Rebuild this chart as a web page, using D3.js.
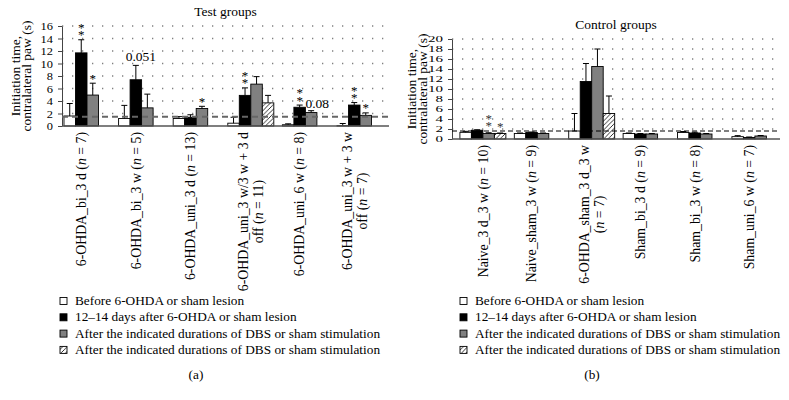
<!DOCTYPE html>
<html><head><meta charset="utf-8">
<script src="https://cdn.jsdelivr.net/npm/d3@7"></script>
<style>
body{margin:0;background:#fff;}
svg{display:block;font-family:"Liberation Serif","DejaVu Serif",serif;}
</style></head>
<body><svg id="chart" width="789" height="400"></svg>
<script>
// ---------- DATA ----------
const labelsA = [["6-OHDA_bi_3 d (n = 7)"],["6-OHDA_bi_3 w (n = 5)"],["6-OHDA_uni_3 d (n = 13)"],
  ["6-OHDA_uni_3 w/3 w + 3 d","off (n = 11)"],["6-OHDA_uni_6 w (n = 8)"],["6-OHDA_uni_3 w + 3 w","off (n = 7)"]];
const labelsB = [["Naive_3 d_3 w (n = 10)"],["Naive_sham_3 w (n = 9)"],["6-OHDA_sham_3 d_3 w","(n = 7)"],
  ["Sham_bi_3 d (n = 9)"],["Sham_bi_3 w (n = 8)"],["Sham_uni_6 w (n = 7)"]];
const seriesNames = ["Before 6-OHDA or sham lesion","12–14 days after 6-OHDA or sham lesion",
  "After the indicated durations of DBS or sham stimulation","After the indicated durations of DBS or sham stimulation"];

// panel (a) means and error (upper) values
const beforeA    = [1.6, 1.2, 1.2, 0.45, 0.2, 0.05];
const beforeErrA = [2.0, 2.1, 0.3, 0.95, 0.15, 0.35];
const lesionA    = [11.7, 7.4, 1.4, 4.9, 3.0, 3.35];
const lesionErrA = [2.1, 2.3, 0.4, 1.2, 0.35, 0.4];
const dbsA       = [4.95, 2.9, 2.8, 6.7, 2.15, 1.7];
const dbsErrA    = [1.9, 2.2, 0.35, 1.2, 0.3, 0.4];
const offA       = [null, null, null, 3.7, null, null];
const offErrA    = [null, null, null, 1.2, null, null];

// panel (b)
const beforeB    = [1.33, 1.1, 1.6, 1.1, 1.3, 0.47];
const beforeErrB = [0.2, 0.1, 3.5, 0.1, 0.2, 0.2];
const lesionB    = [1.75, 1.3, 11.5, 1.0, 1.2, 0.3];
const lesionErrB = [0.1, 0.1, 3.6, 0.1, 0.15, 0.1];
const dbsB       = [1.1, 1.1, 14.5, 1.0, 1.0, 0.6];
const dbsErrB    = [0.15, 0.1, 3.5, 0.1, 0.1, 0.1];
const offB       = [1.1, null, 5.1, null, null, null];
const offErrB    = [0.1, null, 3.5, null, null, null];

const ticksA = [0,2,4,6,8,10,12,14,16];
const ticksB = [0,2,4,6,8,10,12,14,16,18,20];
const thresholdA = 1.5, thresholdB = 1.6;

// annotations: category index, series index, text
const annotA = [{c:0,s:1,t:"**"},{c:0,s:2,t:"*"},{c:1,s:1,t:"0.051"},{c:2,s:2,t:"*"},
  {c:3,s:1,t:"**"},{c:4,s:1,t:"**"},{c:4,s:2,t:"0.08"},{c:5,s:1,t:"**"},{c:5,s:2,t:"*"}];
const annotB = [{c:0,s:2,t:"**"},{c:0,s:3,t:"*"}];

// ---------- DRAW ----------
const svg = d3.select("#chart");
const defs = svg.append("defs");
const pat = defs.append("pattern").attr("id","hatch").attr("patternUnits","userSpaceOnUse")
  .attr("width",4.5).attr("height",4.5);
pat.append("rect").attr("width",4.5).attr("height",4.5).attr("fill","#fff");
pat.append("path").attr("d","M-1,1 L1,-1 M0,4.5 L4.5,0 M3.5,5.5 L5.5,3.5").attr("stroke","#000").attr("stroke-width",0.8);

const fills = ["#ffffff","#000000","#808080","url(#hatch)"];

function labelText(sel, str){
  const m = str.match(/^(.*\()n( = .*)$/);
  if(m){ sel.append("tspan").text(m[1]); sel.append("tspan").attr("font-style","italic").text("n"); sel.append("tspan").text(m[2]); }
  else sel.text(str);
}

function panel(cfg){
  const g = svg.append("g");
  const y = d3.scaleLinear().domain([0, cfg.ymax]).range([cfg.bottom, cfg.top]);
  const x0 = d3.scaleBand().domain(d3.range(cfg.labels.length)).range(cfg.bandRange)
    .paddingInner(cfg.pad).paddingOuter(cfg.pad/2);
  const x1 = d3.scaleBand().domain([0,1,2,3]).range([0, x0.bandwidth()]);
  const means = cfg.means, errs = cfg.errs;

  // grid
  g.append("g").selectAll("line").data(cfg.ticks.filter(t=>t>0)).join("line")
    .attr("x1",cfg.left).attr("x2",cfg.right).attr("y1",d=>y(d)).attr("y2",d=>y(d))
    .attr("stroke","#808080").attr("stroke-width",1.3).attr("stroke-dasharray","1.3,8.7");

  // y axis
  const ax = g.append("g").attr("transform",`translate(${cfg.left},0)`)
    .call(d3.axisLeft(y).tickValues(cfg.ticks).tickSize(4).tickSizeOuter(0).tickPadding(5));
  ax.select(".domain").attr("stroke","#444");
  ax.selectAll(".tick line").attr("stroke","#444");
  ax.selectAll("text").attr("font-family","Liberation Serif").attr("font-size",cfg.tickFont).attr("fill","#000")
    .attr("textLength",d=>String(d).length*cfg.digitW).attr("lengthAdjust","spacingAndGlyphs");

  // bars
  const bars = [];
  cfg.labels.forEach((l,c)=>{ for(let s=0;s<4;s++){ if(means[s][c]!=null) bars.push({c,s,v:means[s][c],e:errs[s][c]}); } });
  g.append("g").selectAll("rect").data(bars).join("rect")
    .attr("x",d=>x0(d.c)+x1(d.s)).attr("width",x1.bandwidth())
    .attr("y",d=>y(d.v)).attr("height",d=>y(0)-y(d.v))
    .attr("fill",d=>fills[d.s]).attr("stroke","#000").attr("stroke-width",0.9);
  // error bars
  const eb = g.append("g").attr("stroke","#000").attr("stroke-width",1);
  eb.selectAll("line.v").data(bars).join("line").attr("class","v")
    .attr("x1",d=>x0(d.c)+x1(d.s)+x1.bandwidth()/2).attr("x2",d=>x0(d.c)+x1(d.s)+x1.bandwidth()/2)
    .attr("y1",d=>y(d.v)).attr("y2",d=>y(d.v+d.e));
  eb.selectAll("line.c").data(bars).join("line").attr("class","c")
    .attr("x1",d=>x0(d.c)+x1(d.s)+x1.bandwidth()/2-3).attr("x2",d=>x0(d.c)+x1(d.s)+x1.bandwidth()/2+3)
    .attr("y1",d=>y(d.v+d.e)).attr("y2",d=>y(d.v+d.e));

  // threshold dashed line
  g.append("line").attr("x1",cfg.left).attr("x2",cfg.right).attr("y1",y(cfg.threshold)).attr("y2",y(cfg.threshold))
    .attr("stroke",cfg.dashColor).attr("stroke-width",cfg.dashWidth).attr("stroke-dasharray",cfg.dashArray);

  // x axis line
  g.append("line").attr("x1",cfg.left).attr("x2",cfg.right).attr("y1",y(0)).attr("y2",y(0))
    .attr("stroke","#555").attr("stroke-width",1.4);

  // annotations
  cfg.annots.forEach(a=>{
    const xc = x0(a.c)+x1(a.s)+x1.bandwidth()/2;
    const top = y(means[a.s][a.c]+errs[a.s][a.c]);
    if(/^\*+$/.test(a.t)){
      // stacked asterisks: one text node, each glyph positioned via x/y lists
      const n = a.t.length;
      const xs = d3.range(n).map(()=>xc).join(" ");
      const ys = d3.range(n).map(k=>(top - cfg.starLift - 7.5*k + 6.5).toFixed(2)).join(" ");
      g.append("text").attr("x",xs).attr("y",ys).attr("text-anchor","middle")
        .attr("font-size",13).attr("fill",cfg.starColor).text(a.t);
    } else if(a.s===2){
      g.append("text").attr("x",x0(a.c)+x1(a.s)).attr("y",top-3).attr("font-size",13.5).text(a.t);
    } else {
      g.append("text").attr("x",xc+5).attr("y",top-4).attr("text-anchor","middle").attr("font-size",13.5).text(a.t);
    }
  });

  // category labels
  cfg.labels.forEach((lines,c)=>{
    const nb = [0,1,2,3].filter(s=>means[s][c]!=null).length;
    const xc = x0(c) + nb*x1.bandwidth()/2;
    const lg = g.append("g").attr("transform",`translate(${xc},${y(0)+6}) rotate(-90)`);
    const off = lines.length>1 ? 7.5 : 0;
    const t1 = lg.append("text").attr("text-anchor","end").attr("x",0).attr("y",-off).attr("dy","0.35em").attr("font-size",13.8);
    labelText(t1, lines[0]);
    if(lines.length>1){
      const L = t1.node().getComputedTextLength();
      const t2 = lg.append("text").attr("text-anchor","middle").attr("x",-L/2).attr("y",off).attr("dy","0.35em").attr("font-size",13.8);
      labelText(t2, lines[1]);
    }
  });

  // titles
  g.append("text").attr("x",(cfg.left+cfg.right)/2).attr("y",cfg.titleY).attr("text-anchor","middle")
    .attr("font-size",13.5).text(cfg.title);
  const yl = g.append("g").attr("transform",`translate(${cfg.ylabX},${(cfg.top+cfg.bottom)/2}) rotate(-90)`);
  yl.append("text").attr("text-anchor","middle").attr("y",0).attr("font-size",13.5).text("Initiation time,");
  yl.append("text").attr("text-anchor","middle").attr("y",11).attr("font-size",13.5).text("contralateral paw (s)");

  // legend
  const lgd = g.append("g");
  seriesNames.forEach((n,i)=>{
    const yy = cfg.legY + i*16.3;
    lgd.append("rect").attr("x",cfg.legX).attr("y",yy-7.5).attr("width",7).attr("height",7)
      .attr("fill",fills[i]).attr("stroke","#000").attr("stroke-width",0.9);
    lgd.append("text").attr("x",cfg.legX+15).attr("y",yy).attr("font-size",13.3).text(n);
  });
  g.append("text").attr("x",cfg.capX).attr("y",379).attr("text-anchor","middle").attr("font-size",13.3).text(cfg.cap);
}

panel({labels:labelsA, means:[beforeA,lesionA,dbsA,offA], errs:[beforeErrA,lesionErrA,dbsErrA,offErrA],
  ymax:16, ticks:ticksA, top:26, bottom:126, left:62, right:389, bandRange:[59.7,387.3], pad:0.157,
  threshold:thresholdA, dashColor:"#666", dashWidth:2, dashArray:"6,4", annots:annotA, starLift:7, starColor:"#000",
  title:"Test groups", titleY:16, ylabX:20, tickFont:11, digitW:6.2, legX:60, legY:305, capX:196, cap:"(a)"});
panel({labels:labelsB, means:[beforeB,lesionB,dbsB,offB], errs:[beforeErrB,lesionErrB,dbsErrB,offErrB],
  ymax:20, ticks:ticksB, top:39, bottom:139, left:452, right:780, bandRange:[455.7,782.1], pad:0.155,
  threshold:thresholdB, dashColor:"#000", dashWidth:1.2, dashArray:"5,3", annots:annotB, starLift:9, starColor:"#333",
  title:"Control groups", titleY:29, ylabX:416, tickFont:8.8, digitW:7.5, legX:460, legY:305, capX:592, cap:"(b)"});
</script></body></html>
